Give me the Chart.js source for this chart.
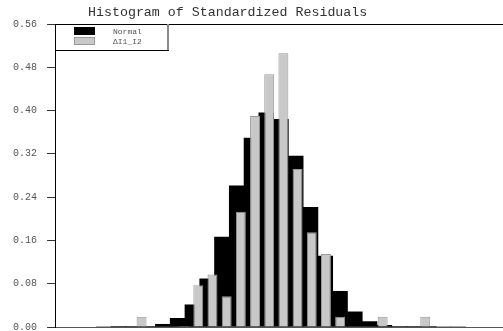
<!DOCTYPE html>
<html>
<head>
<meta charset="utf-8">
<style>
  html, body { margin: 0; padding: 0; background: #fff; overflow: hidden; }
</style>
</head>
<body>
<canvas id="histChart" width="503" height="331"></canvas>
<script src="https://cdn.jsdelivr.net/npm/chart.js@4.4.1/dist/chart.umd.min.js"></script>
<script>
// Histogram bins (midpoints of standardized residual classes)
const binMids = [-4.8, -4.4, -4.0, -3.6, -3.2, -2.8, -2.4, -2.0, -1.6, -1.2, -0.8, -0.4, 0.0,
                 0.4, 0.8, 1.2, 1.6, 2.0, 2.4, 2.8, 3.2, 3.6, 4.0, 4.4, 4.8];

// Fitted normal density per bin
const normalDensity = [0.000, 0.001, 0.001, 0.001, 0.005, 0.016, 0.041, 0.089, 0.166, 0.261, 0.349, 0.396, 0.384,
                       0.316, 0.221, 0.131, 0.066, 0.028, 0.010, 0.003, 0.001, 0.001, 0.001, 0.000, 0.000];

// Observed density of the residuals
const residualDensity = [0.000, 0.000, 0.019, 0.000, 0.001, 0.002, 0.077, 0.097, 0.057, 0.213, 0.390, 0.467, 0.506,
                         0.292, 0.175, 0.135, 0.019, 0.000, 0.000, 0.019, 0.000, 0.000, 0.019, 0.000, 0.000];

const seriesNames = ['Normal', '\u0394I1_I2'];
const chartTitle = 'Histogram of Standardized Residuals';

// Title and the boxed legend in the upper left corner of the plot
const frameDecor = {
    id: 'frameDecor',
    afterDraw(chart) {
        const ctx = chart.ctx;
        const area = chart.chartArea;
        ctx.save();

        ctx.font = '13.3px "Liberation Mono", monospace';
        ctx.fillStyle = '#333';
        ctx.textBaseline = 'alphabetic';
        ctx.fillText(chartTitle, 88, 16);

        const boxRight = area.left + 113;
        const boxBottom = area.top + 26;
        ctx.fillStyle = '#fff';
        ctx.fillRect(area.left + 1, area.top + 1, 112, 25);
        ctx.strokeStyle = '#8a8a8a';
        ctx.lineWidth = 2;
        ctx.beginPath();
        ctx.moveTo(boxRight, area.top);
        ctx.lineTo(boxRight, boxBottom);
        ctx.stroke();
        ctx.strokeStyle = '#000';
        ctx.lineWidth = 1;
        ctx.beginPath();
        ctx.moveTo(area.left, boxBottom + 0.5);
        ctx.lineTo(boxRight + 1, boxBottom + 0.5);
        ctx.stroke();

        ctx.font = '8px "Liberation Mono", monospace';
        ctx.textBaseline = 'middle';
        chart.data.datasets.forEach((ds, i) => {
            const y = area.top + 3 + i * 10;
            ctx.fillStyle = ds.backgroundColor;
            ctx.fillRect(area.left + 19, y, 21, 8);
            if (ds.borderWidth) {
                ctx.strokeStyle = ds.borderColor;
                ctx.lineWidth = 1;
                ctx.strokeRect(area.left + 19.5, y + 0.5, 20, 7);
            }
            ctx.fillStyle = '#555';
            ctx.fillText(ds.label, area.left + 58, y + 5);
        });
        ctx.restore();
    }
};

const histData = {
    datasets: [{
        label: seriesNames[0],
        data: binMids.map((m, i) => ({ x: m, y: normalDensity[i] })),
        backgroundColor: '#000',
        borderWidth: 0,
        grouped: false,
        barPercentage: 1,
        categoryPercentage: 1,
        order: 2,
        xAxisID: 'x'
    }, {
        label: seriesNames[1],
        data: binMids.map((m, i) => ({ x: m, y: residualDensity[i] })),
        backgroundColor: '#c8c8c8',
        borderColor: '#999',
        borderWidth: 1,
        grouped: false,
        barPercentage: 0.7,
        categoryPercentage: 1,
        order: 1,
        xAxisID: 'x2'
    }]
};

const histConfig = {
    type: 'bar',
    data: histData,
    options: {
        responsive: false,
        animation: false,
        devicePixelRatio: 1,
        layout: { padding: { top: 24, bottom: 4, left: 0, right: 0 } },
        plugins: {
            legend: { display: false },
            title: { display: false },
            tooltip: { enabled: false }
        },
        scales: {
            x: {
                type: 'linear',
                min: -5.108,
                max: 5.0,
                ticks: { display: false },
                grid: { display: false, drawTicks: false },
                border: { display: true, color: '#555' }
            },
            x2: {
                type: 'linear',
                position: 'top',
                min: -5.178,
                max: 4.93,
                ticks: { display: false },
                grid: { display: false, drawTicks: false },
                border: { display: true, color: '#000' }
            },
            y: {
                min: 0,
                max: 0.56,
                ticks: {
                    stepSize: 0.08,
                    padding: 10,
                    color: '#555',
                    font: { family: '"Liberation Mono", monospace', size: 10 },
                    callback: v => v.toFixed(2)
                },
                grid: { drawOnChartArea: false, drawTicks: true, tickLength: 8, color: '#333' },
                border: { display: true, color: '#000' },
                afterFit: s => { s.width = 55; s.paddingTop = 0; s.paddingBottom = 0; }
            }
        }
    },
    plugins: [frameDecor]
};

new Chart(document.getElementById('histChart').getContext('2d'), histConfig);
</script>
</body>
</html>
